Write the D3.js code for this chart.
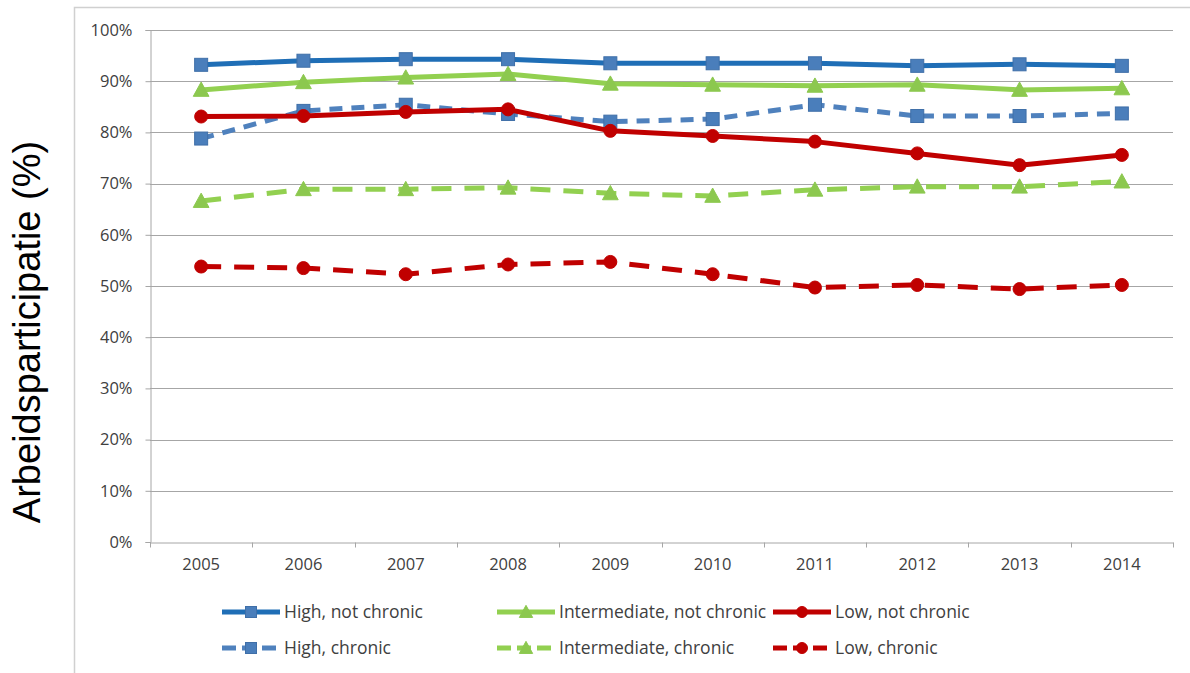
<!DOCTYPE html>
<html>
<head>
<meta charset="utf-8">
<script src="https://cdn.jsdelivr.net/npm/d3@7"></script>
<style>
  html, body { margin: 0; padding: 0; background: #fff; }
  svg { display: block; }
</style>
</head>
<body>
<svg id="chart" width="1190" height="673"></svg>
<script>
// Labour participation by education level and chronic illness, 2005-2014
const years = ["2005","2006","2007","2008","2009","2010","2011","2012","2013","2014"];
const yTicks = [0, 0.1, 0.2, 0.3, 0.4, 0.5, 0.6, 0.7, 0.8, 0.9, 1.0];

const highNotChronic = [93.2, 94.0, 94.3, 94.3, 93.5, 93.5, 93.5, 93.0, 93.3, 93.0];
const interNotChronic = [88.3, 89.8, 90.7, 91.4, 89.5, 89.3, 89.1, 89.3, 88.3, 88.6];
const lowNotChronic = [83.1, 83.2, 84.0, 84.5, 80.3, 79.3, 78.2, 75.9, 73.6, 75.6];
const highChronic = [78.8, 84.2, 85.4, 83.6, 82.1, 82.6, 85.4, 83.2, 83.2, 83.7];
const interChronic = [66.6, 68.9, 68.9, 69.2, 68.1, 67.6, 68.8, 69.4, 69.4, 70.4];
const lowChronic = [53.8, 53.5, 52.3, 54.2, 54.7, 52.3, 49.7, 50.2, 49.4, 50.2];

const seriesNames = [
  "High, not chronic", "Intermediate, not chronic", "Low, not chronic",
  "High, chronic", "Intermediate, chronic", "Low, chronic"
];

const series = [
  { name: seriesNames[0], values: highNotChronic, line: "#1f6eb6", fill: "#4a7ebb", marker: "square", dash: null },
  { name: seriesNames[1], values: interNotChronic, line: "#92d050", fill: "#8cc84f", marker: "triangle", dash: null },
  { name: seriesNames[2], values: lowNotChronic, line: "#c00000", fill: "#c00000", marker: "circle", dash: null },
  { name: seriesNames[3], values: highChronic, line: "#4f81bd", fill: "#4a7ebb", marker: "square", dash: "13,9" },
  { name: seriesNames[4], values: interChronic, line: "#92d050", fill: "#8cc84f", marker: "triangle", dash: "20,13" },
  { name: seriesNames[5], values: lowChronic, line: "#c00000", fill: "#c00000", marker: "circle", dash: "20,13" }
];

const svg = d3.select("#chart");
const plot = { left: 150, right: 1173, top: 30, bottom: 542 };
const labelFont = "'Open Sans', sans-serif";

// chart frame
svg.append("rect")
  .attr("x", 74.5).attr("y", 7.5)
  .attr("width", 1200).attr("height", 700)
  .attr("fill", "#fff").attr("stroke", "#d0d0d0").attr("stroke-width", 1.5);

const x = d3.scaleBand().domain(years).range([plot.left, plot.right]);
const cx = d => x(d) + x.bandwidth() / 2;
const y = d3.scaleLinear().domain([0, 1]).range([plot.bottom, plot.top]);

// gridlines
svg.append("g").selectAll("line")
  .data(yTicks.slice(1))
  .join("line")
  .attr("x1", plot.left).attr("x2", plot.right)
  .attr("y1", d => Math.round(y(d)) + 0.5).attr("y2", d => Math.round(y(d)) + 0.5)
  .attr("stroke", "#a6a6a6").attr("stroke-width", 1);

// y axis
const yAxis = svg.append("g")
  .attr("transform", `translate(${plot.left + 0.5},0)`)
  .call(d3.axisLeft(y).tickValues(yTicks).tickFormat(d3.format(".0%")).tickSize(5).tickPadding(13));
yAxis.select(".domain").attr("stroke", "#a6a6a6");
yAxis.selectAll(".tick line").attr("stroke", "#a6a6a6");
yAxis.selectAll("text")
  .attr("font-family", labelFont).attr("font-size", 16.5).attr("fill", "#404040");

// x axis with boundary tick marks
const xAxis = svg.append("g")
  .attr("transform", `translate(0,${Math.round(plot.bottom) + 0.5})`)
  .call(d3.axisBottom(x).tickSize(0).tickPadding(16));
xAxis.select(".domain").attr("stroke", "#a6a6a6");
xAxis.selectAll("text")
  .attr("font-family", labelFont).attr("font-size", 16.5).attr("fill", "#404040");
xAxis.selectAll("line.bound")
  .data(years.concat(["end"]))
  .join("line")
  .attr("class", "bound")
  .attr("x1", (d, i) => Math.round(plot.left + i * x.bandwidth()) + 0.5)
  .attr("x2", (d, i) => Math.round(plot.left + i * x.bandwidth()) + 0.5)
  .attr("y1", 0).attr("y2", 5)
  .attr("stroke", "#a6a6a6");

// y axis title
svg.append("text")
  .attr("transform", "translate(40,332) rotate(-90)")
  .attr("text-anchor", "middle")
  .attr("font-family", "'Liberation Sans', Arial, sans-serif")
  .attr("font-size", 38)
  .attr("fill", "#000")
  .text("Arbeidsparticipatie (%)");

function drawMarker(g, type, fill, stroke, size) {
  if (type === "square") {
    g.append("rect")
      .attr("x", -size / 2).attr("y", -size / 2)
      .attr("width", size).attr("height", size)
      .attr("fill", fill).attr("stroke", stroke).attr("stroke-width", 1);
  } else if (type === "triangle") {
    const s = size * 1.1;
    g.append("path")
      .attr("d", `M0,${-s * 0.55}L${s * 0.55},${s * 0.45}L${-s * 0.55},${s * 0.45}Z`)
      .attr("fill", fill).attr("stroke", fill).attr("stroke-width", 1);
  } else {
    g.append("circle")
      .attr("r", size / 2)
      .attr("fill", fill).attr("stroke", stroke).attr("stroke-width", 1);
  }
}

const line = d3.line().x((d, i) => cx(years[i])).y(d => y(d / 100));

// draw from the back so solid series sit on top
const order = [5, 4, 3, 2, 1, 0];
order.forEach(k => {
  const s = series[k];
  const g = svg.append("g");
  g.append("path")
    .datum(s.values)
    .attr("d", line)
    .attr("fill", "none")
    .attr("stroke", s.line)
    .attr("stroke-width", 5)
    .attr("stroke-linejoin", "round")
    .attr("stroke-dasharray", s.dash);
  s.values.forEach((v, i) => {
    const m = g.append("g").attr("transform", `translate(${cx(years[i])},${y(v / 100)})`);
    drawMarker(m, s.marker, s.fill, s.marker === "square" ? "#3f6fa8" : s.line, 13);
  });
});

// legend
const legendCols = [222, 497, 773];
const legendRows = [612, 648];
series.forEach((s, k) => {
  const col = k % 3, row = Math.floor(k / 3);
  const lx = legendCols[col], ly = legendRows[row];
  const g = svg.append("g").attr("transform", `translate(${lx},${ly})`);
  g.append("line")
    .attr("x1", 0).attr("x2", 58).attr("y1", 0).attr("y2", 0)
    .attr("stroke", s.line).attr("stroke-width", 5)
    .attr("stroke-dasharray", s.dash ? "14,6" : null);
  const m = g.append("g").attr("transform", "translate(29,0)");
  drawMarker(m, s.marker, s.fill, s.marker === "square" ? "#3f6fa8" : s.line, 11);
  g.append("text")
    .attr("x", 62).attr("y", 0).attr("dy", "0.36em")
    .attr("font-family", labelFont)
    .attr("font-size", 17.5)
    .attr("fill", "#404040")
    .text(s.name);
});
</script>
</body>
</html>
